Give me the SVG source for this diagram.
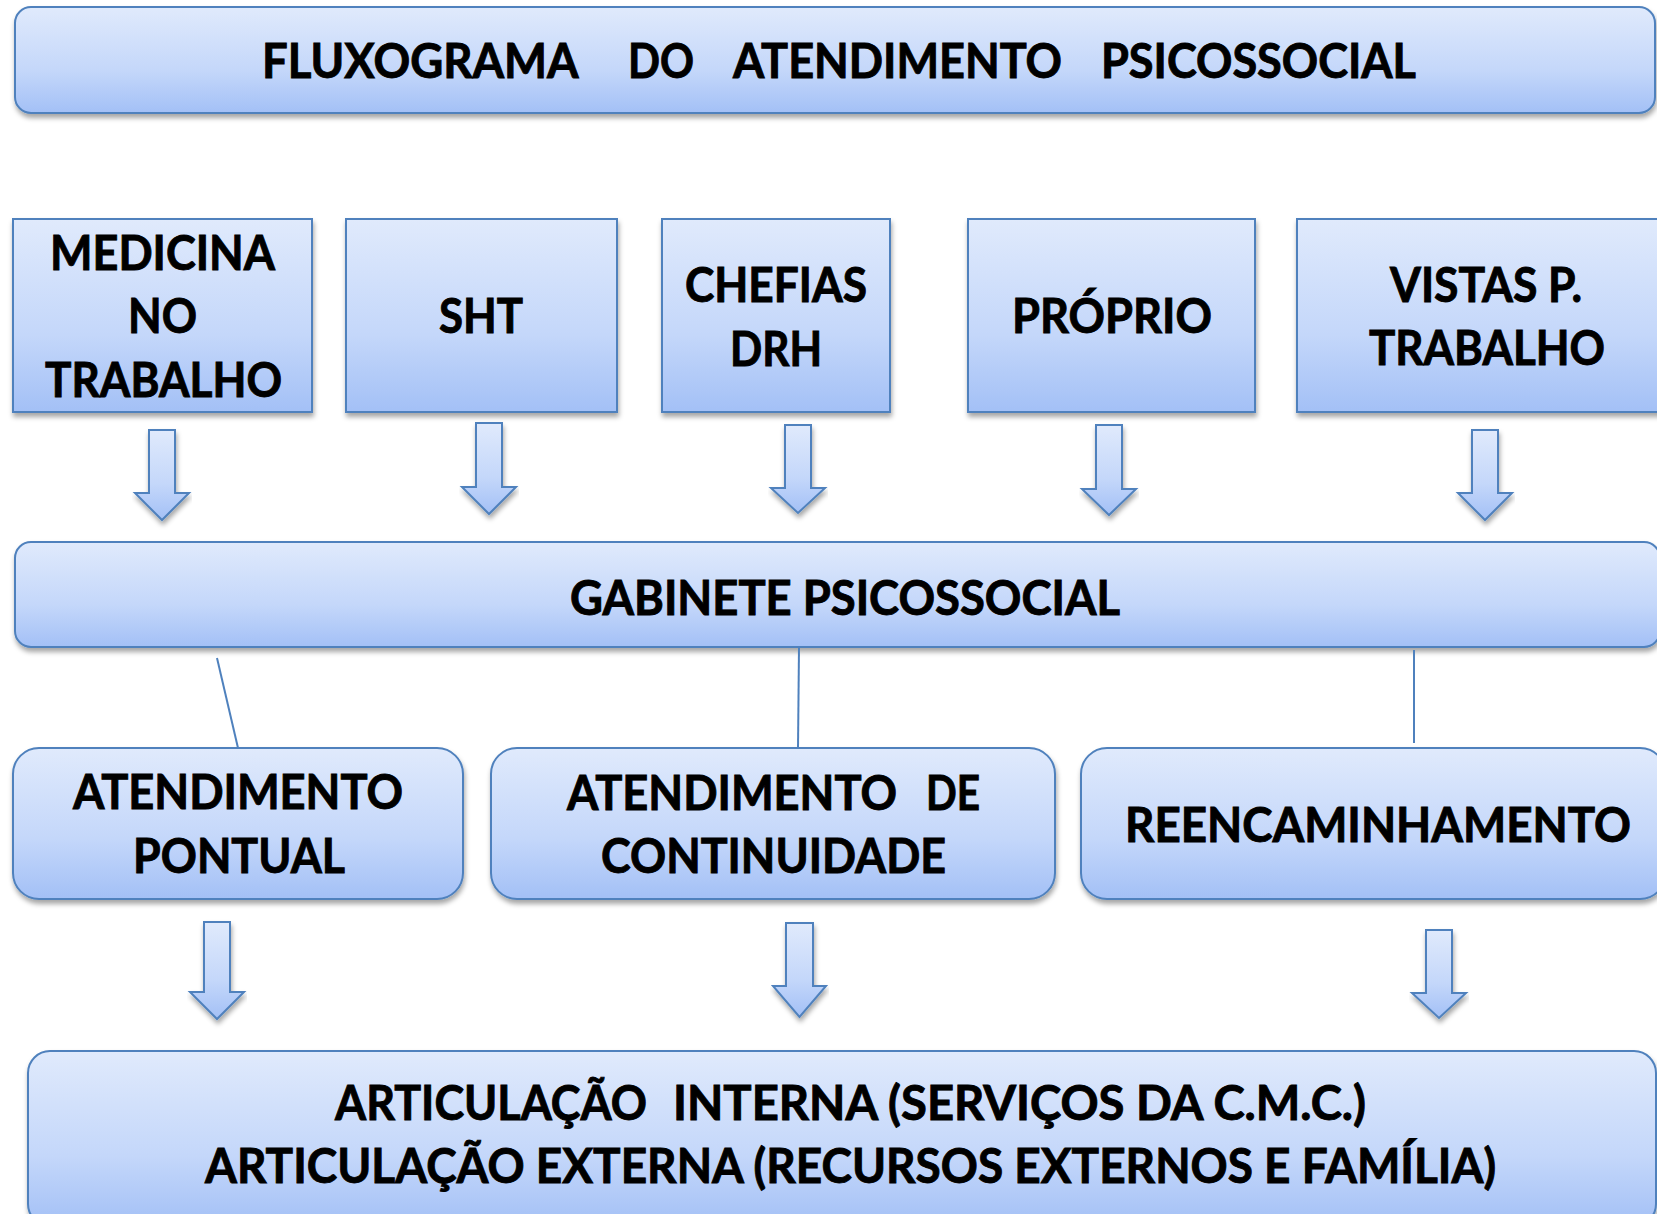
<svg xmlns="http://www.w3.org/2000/svg" width="1657" height="1214" viewBox="0 0 1657 1214">
<defs>
<linearGradient id="g" x1="0" y1="0" x2="0" y2="1">
<stop offset="0" stop-color="#e0eafc"/>
<stop offset="0.6" stop-color="#c4d7fa"/>
<stop offset="1" stop-color="#a3c0f6"/>
</linearGradient>
<filter id="sh" x="-5%" y="-10%" width="110%" height="130%">
<feDropShadow dx="1" dy="4" stdDeviation="2.5" flood-color="#000" flood-opacity="0.35"/>
</filter>
<style>
.box{fill:url(#g);stroke:#4f81bd;stroke-width:2;filter:url(#sh)}
.arr{fill:url(#g);stroke:#4f81bd;stroke-width:2;stroke-linejoin:miter;filter:url(#sh)}
.ln{stroke:#4f81bd;stroke-width:2;fill:none}
text{font-family:Lato,"Open Sans","Liberation Sans",sans-serif;font-weight:bold;font-size:47px;fill:#000;stroke:#000;stroke-width:0.9}
</style>
</defs>

<g id="title">
<rect class="box" x="15" y="7" width="1640" height="106" rx="16"/>
<text y="78"><tspan x="262" textLength="315" lengthAdjust="spacingAndGlyphs">FLUXOGRAMA</tspan> <tspan x="628" textLength="66" lengthAdjust="spacingAndGlyphs">DO</tspan> <tspan x="733" textLength="329" lengthAdjust="spacingAndGlyphs">ATENDIMENTO</tspan> <tspan x="1101" textLength="315" lengthAdjust="spacingAndGlyphs">PSICOSSOCIAL</tspan></text>
</g>

<g id="medicina">
<rect class="box" x="13" y="219" width="299" height="193"/>
<text><tspan x="50" y="270" textLength="225" lengthAdjust="spacingAndGlyphs">MEDICINA</tspan><tspan x="128" y="333" textLength="69" lengthAdjust="spacingAndGlyphs">NO</tspan><tspan x="45" y="397" textLength="237" lengthAdjust="spacingAndGlyphs">TRABALHO</tspan></text>
</g>

<g id="sht">
<rect class="box" x="346" y="219" width="271" height="193"/>
<text x="439" y="333" textLength="84" lengthAdjust="spacingAndGlyphs">SHT</text>
</g>

<g id="chefias">
<rect class="box" x="662" y="219" width="228" height="193"/>
<text><tspan x="685" y="302" textLength="182" lengthAdjust="spacingAndGlyphs">CHEFIAS</tspan><tspan x="730" y="366" textLength="92" lengthAdjust="spacingAndGlyphs">DRH</tspan></text>
</g>

<g id="proprio">
<rect class="box" x="968" y="219" width="287" height="193"/>
<text x="1012" y="333" textLength="200" lengthAdjust="spacingAndGlyphs">PRÓPRIO</text>
</g>

<g id="vistas">
<rect class="box" x="1297" y="219" width="380" height="193"/>
<text><tspan x="1390" y="302" textLength="192" lengthAdjust="spacingAndGlyphs">VISTAS P.</tspan><tspan x="1369" y="365" textLength="236" lengthAdjust="spacingAndGlyphs">TRABALHO</tspan></text>
</g>

<g id="gabinete">
<rect class="box" x="15" y="542" width="1645" height="105" rx="16"/>
<text x="570" y="615" textLength="550" lengthAdjust="spacingAndGlyphs">GABINETE PSICOSSOCIAL</text>
</g>

<g id="pontual">
<rect class="box" x="13" y="748" width="450" height="151" rx="26"/>
<text><tspan x="73" y="809" textLength="330" lengthAdjust="spacingAndGlyphs">ATENDIMENTO</tspan><tspan x="133" y="873" textLength="212" lengthAdjust="spacingAndGlyphs">PONTUAL</tspan></text>
</g>

<g id="continuidade">
<rect class="box" x="491" y="748" width="564" height="151" rx="26"/>
<text y="810"><tspan x="567" textLength="330" lengthAdjust="spacingAndGlyphs">ATENDIMENTO</tspan> <tspan x="926" textLength="54" lengthAdjust="spacingAndGlyphs">DE</tspan></text>
<text x="601" y="873" textLength="345" lengthAdjust="spacingAndGlyphs">CONTINUIDADE</text>
</g>

<g id="reencaminhamento">
<rect class="box" x="1081" y="748" width="585" height="151" rx="26"/>
<text x="1125" y="842" textLength="506" lengthAdjust="spacingAndGlyphs">REENCAMINHAMENTO</text>
</g>

<g id="articulacao">
<rect class="box" x="28" y="1051" width="1628" height="175" rx="22"/>
<text y="1120"><tspan x="335" textLength="312" lengthAdjust="spacingAndGlyphs">ARTICULAÇÃO</tspan> <tspan x="673" textLength="693" lengthAdjust="spacingAndGlyphs">INTERNA (SERVIÇOS DA C.M.C.)</tspan></text>
<text x="205" y="1183" textLength="1291" lengthAdjust="spacingAndGlyphs">ARTICULAÇÃO EXTERNA (RECURSOS EXTERNOS E FAMÍLIA)</text>
</g>

<g id="connectors">
<path class="arr" d="M149,430 H175 V493 H189 L162,520 L135,493 H149 Z"/>
<path class="arr" d="M476,423 H502 V487 H516 L489,514 L462,487 H476 Z"/>
<path class="arr" d="M785,425 H811 V488 H825 L798,513 L771,488 H785 Z"/>
<path class="arr" d="M1096,425 H1122 V489 H1136 L1109,515 L1082,489 H1096 Z"/>
<path class="arr" d="M1472,430 H1498 V493 H1512 L1485,520 L1458,493 H1472 Z"/>
<line class="ln" x1="217" y1="658" x2="238" y2="748"/>
<line class="ln" x1="799" y1="647" x2="798" y2="748"/>
<line class="ln" x1="1414" y1="650" x2="1414" y2="743"/>
<path class="arr" d="M204,922 H230 V992 H244 L217,1019 L190,992 H204 Z"/>
<path class="arr" d="M786,923 H813 V986 H826 L799.5,1017 L773,986 H786 Z"/>
<path class="arr" d="M1426,930 H1452 V993 H1466 L1439,1018 L1412,993 H1426 Z"/>
</g>
</svg>
